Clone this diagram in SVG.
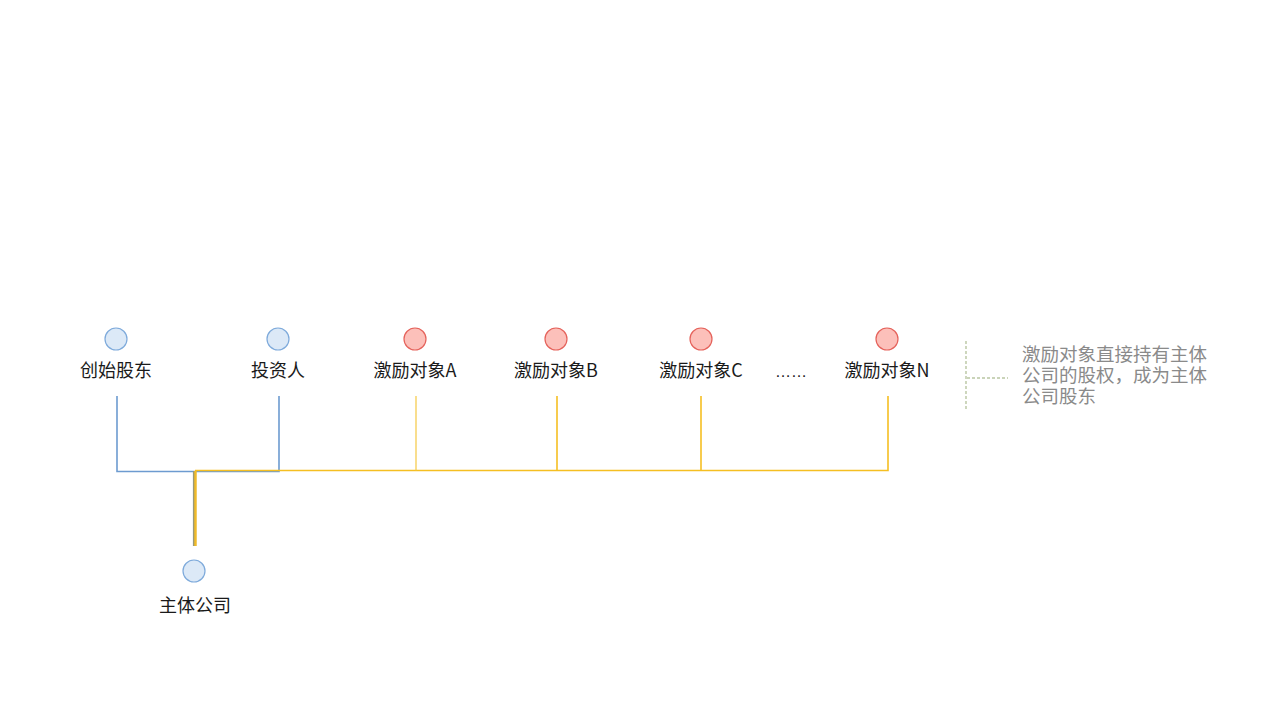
<svg xmlns="http://www.w3.org/2000/svg" width="1280" height="720" viewBox="0 0 1280 720">
  <style>
    .lbl { font-family: "Noto Sans CJK SC", "Liberation Sans", sans-serif; font-size: 18px; fill: #1a1a1a; text-anchor: middle; }
    .dots { font-family: "Liberation Sans", sans-serif; font-size: 16px; fill: #1a1a1a; text-anchor: middle; }
    .note { font-family: "Liberation Sans", "Noto Sans CJK SC", sans-serif; font-size: 18.5px; fill: #8a8a8a; }
    .dot-blue { fill: #dce9f7; stroke: #7eaadb; stroke-width: 1.2; }
    .dot-red { fill: #fcc0ba; stroke: #e5625b; stroke-width: 1.2; }
    .ln-blue { fill: none; stroke: #6d9bd0; stroke-width: 1.6; }
    .ln-gold { fill: none; stroke: #f5bf22; stroke-width: 1.6; }
    .ln-gold-thin { fill: none; stroke: #f5c842; stroke-width: 1.2; }
    .bracket { fill: none; stroke: #b9c6a2; stroke-width: 1.4; stroke-dasharray: 3 2; }
  </style>
  <rect width="1280" height="720" fill="#ffffff"/>

  <!-- connectors -->
  <g id="connectors">
    <!-- shareholders on the blue branch -->
    <path class="ln-blue" d="M117 396 V471.5 H279 V396"/>
    <!-- trunk down to the company -->
    <path d="M194.5 471 V546" fill="none" stroke="#9a9a7a" stroke-width="3.2"/>
    <path d="M195.5 471 V546" fill="none" stroke="#f2bb26" stroke-width="2.4"/>
    <!-- incentive recipients on the gold branch -->
    <path class="ln-gold" d="M195 470.5 H888 V396"/>
    <path class="ln-gold-thin" d="M416 396 V470.5"/>
    <path class="ln-gold" d="M557 396 V470.5"/>
    <path class="ln-gold" d="M701 396 V470.5"/>
  </g>

  <g id="node-founder">
    <circle class="dot-blue" cx="116" cy="339" r="11"/>
    <text class="lbl" x="116" y="377">创始股东</text>
  </g>
  <g id="node-investor">
    <circle class="dot-blue" cx="278" cy="339" r="11"/>
    <text class="lbl" x="278" y="377">投资人</text>
  </g>
  <g id="node-a">
    <circle class="dot-red" cx="415" cy="339" r="11"/>
    <text class="lbl" x="415" y="377">激励对象A</text>
  </g>
  <g id="node-b">
    <circle class="dot-red" cx="556" cy="339" r="11"/>
    <text class="lbl" x="556" y="377">激励对象B</text>
  </g>
  <g id="node-c">
    <circle class="dot-red" cx="701" cy="339" r="11"/>
    <text class="lbl" x="701" y="377">激励对象C</text>
  </g>
  <g id="node-ellipsis">
    <text class="dots" x="791" y="377">……</text>
  </g>
  <g id="node-n">
    <circle class="dot-red" cx="887" cy="339" r="11"/>
    <text class="lbl" x="887" y="377">激励对象N</text>
  </g>
  <g id="node-company">
    <circle class="dot-blue" cx="194" cy="571" r="11"/>
    <text class="lbl" x="195" y="612">主体公司</text>
  </g>

  <g id="note">
    <path class="bracket" d="M966 341 V410 M967 378 H1008"/>
    <text class="note" x="1022" y="361">激励对象直接持有主体</text>
    <text class="note" x="1022" y="382">公司的股权，成为主体</text>
    <text class="note" x="1022" y="403">公司股东</text>
  </g>
</svg>
